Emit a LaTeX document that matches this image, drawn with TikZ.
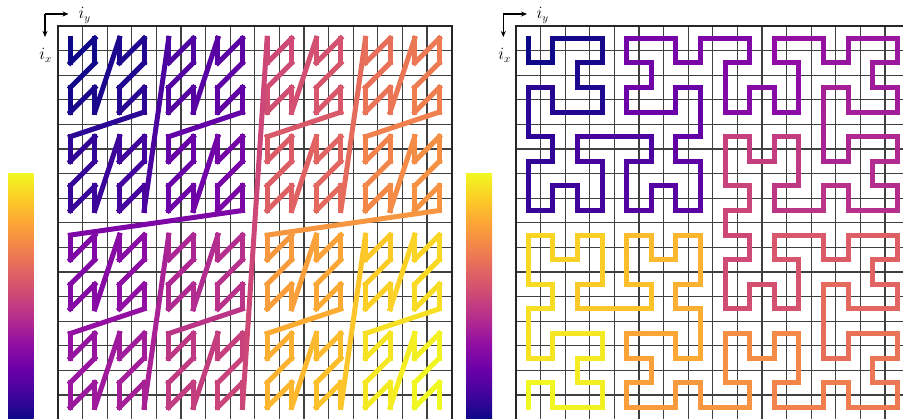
\documentclass[tikz,border=0pt]{standalone}
\usetikzlibrary{arrows.meta}
\definecolor{pl0}{HTML}{0D0887}
\definecolor{pl1}{HTML}{41049D}
\definecolor{pl2}{HTML}{6A00A8}
\definecolor{pl3}{HTML}{8F0DA4}
\definecolor{pl4}{HTML}{B12A90}
\definecolor{pl5}{HTML}{CC4778}
\definecolor{pl6}{HTML}{E16462}
\definecolor{pl7}{HTML}{F2844B}
\definecolor{pl8}{HTML}{FCA636}
\definecolor{pl9}{HTML}{FCCE25}
\definecolor{pl10}{HTML}{F0F921}
\pgfdeclareverticalshading{plasmabar}{100bp}{color(0bp)=(pl0); color(25bp)=(pl0); color(30bp)=(pl1); color(35bp)=(pl2); color(40bp)=(pl3); color(45bp)=(pl4); color(50bp)=(pl5); color(55bp)=(pl6); color(60bp)=(pl7); color(65bp)=(pl8); color(70bp)=(pl9); color(75bp)=(pl10); color(100bp)=(pl10)}

\newcount\MoT \newcount\MoX \newcount\MoY \newcount\MoW \newcount\MoQ \newcount\MoB
\newcount\HiX \newcount\HiY \newcount\HiS \newcount\HiT \newcount\HiRX \newcount\HiRY \newcount\HiQ
\newcount\PlM \newcount\PlK \newcount\PlP

\def\mortonxy#1{%
  \MoT=#1\relax \MoX=0 \MoY=0 \MoW=1
  \loop
    \MoQ=\MoT \divide\MoQ by 2 \MoB=\numexpr\MoT-2*\MoQ\relax
    \advance\MoX by \numexpr\MoW*\MoB\relax
    \MoT=\MoQ
    \MoQ=\MoT \divide\MoQ by 2 \MoB=\numexpr\MoT-2*\MoQ\relax
    \advance\MoY by \numexpr\MoW*\MoB\relax
    \MoT=\MoQ
    \multiply\MoW by 2
  \ifnum\MoW<16 \repeat
}

\def\hilbertxy#1{%
  \HiT=#1\relax \HiX=0 \HiY=0 \HiS=1
  \loop
    \HiQ=\HiT \divide\HiQ by 2
    \HiRX=\HiQ \divide\HiQ by 2 \HiRX=\numexpr\HiRX-2*\HiQ\relax
    \HiQ=\HiT \divide\HiQ by 2 \HiRY=\numexpr\HiT-2*\HiQ\relax
    \ifnum\HiRY=\HiRX \HiRY=0 \else \HiRY=1 \fi
    \ifnum\HiRY=0
      \ifnum\HiRX=1
        \HiX=\numexpr\HiS-1-\HiX\relax
        \HiY=\numexpr\HiS-1-\HiY\relax
      \fi
      \HiQ=\HiX \HiX=\HiY \HiY=\HiQ
    \fi
    \advance\HiX by \numexpr\HiS*\HiRX\relax
    \advance\HiY by \numexpr\HiS*\HiRY\relax
    \divide\HiT by 4
    \multiply\HiS by 2
  \ifnum\HiS<16 \repeat
}

\def\plasmacolor#1{%
  \PlM=\numexpr#1*1000/254\relax
  \PlK=\PlM \divide\PlK by 100
  \ifnum\PlK>9 \PlK=9 \fi
  \PlP=\numexpr\PlM-100*\PlK\relax
  \edef\PlA{pl\the\numexpr\PlK+1\relax}%
  \edef\PlB{pl\the\PlK}%
  \edef\PlDo{\noexpand\colorlet{cur}{\PlA!\the\PlP!\PlB}}%
  \PlDo
}

\tikzset{
  gridline/.style={line width=1.2pt, draw=black!75},
  gridborder/.style={line width=2pt, draw=black!85},
  curve/.style={line width=5pt, line cap=rect},
  axarrow/.style={line width=1.1pt, -{Stealth[length=6pt,width=5pt]}},
  lbl/.style={inner sep=0pt, font=\fontsize{16}{18}\selectfont},
}

\begin{document}
\begin{tikzpicture}[x=1pt,y=-1pt]
\useasboundingbox (0,0) rectangle (903,419);

% colorbars
\shade[shading=plasmabar] (8,173.3) rectangle (33.7,419);
\shade[shading=plasmabar] (466,173.3) rectangle (492,419);

% grids
\foreach \ox in {58,516}{
  \foreach \k in {1,...,15}{
    \draw[gridline] ({\ox+\k*24.6},26) -- ({\ox+\k*24.6},419.6);
    \draw[gridline] (\ox,{26+\k*24.6}) -- ({\ox+393.6},{26+\k*24.6});
  }
  \draw[gridborder] (\ox,26) rectangle ({\ox+393.6},419.6);
}

% Morton curve
\foreach \d in {0,...,254}{
  \mortonxy{\d}
  \edef\ax{\the\MoX}\edef\ay{\the\MoY}
  \mortonxy{\numexpr\d+1\relax}
  \edef\bx{\the\MoX}\edef\by{\the\MoY}
  \plasmacolor{\d}
  \draw[curve,draw=cur] ({58+(\ay+0.5)*24.6},{26+(\ax+0.5)*24.6}) -- ({58+(\by+0.5)*24.6},{26+(\bx+0.5)*24.6});
}

% Hilbert curve
\foreach \d in {0,...,254}{
  \hilbertxy{\d}
  \edef\ax{\the\HiX}\edef\ay{\the\HiY}
  \hilbertxy{\numexpr\d+1\relax}
  \edef\bx{\the\HiX}\edef\by{\the\HiY}
  \plasmacolor{\d}
  \draw[curve,draw=cur] ({516+(\ay+0.5)*24.6},{26+(\ax+0.5)*24.6}) -- ({516+(\by+0.5)*24.6},{26+(\bx+0.5)*24.6});
}

% axis indicators
\coordinate (oL) at (45,14);
\coordinate (ayL) at (68.5,14);
\coordinate (axL) at (45,37);
\draw[axarrow] (oL) -- (ayL);
\draw[axarrow] (oL) -- (axL);
\node[lbl, anchor=base west] (iyL) at (78.5,19) {$i_y$};
\node[lbl, anchor=base east] (ixL) at (52,59.5) {$i_x$};

\coordinate (oR) at (503.3,14);
\coordinate (ayR) at (527,14);
\coordinate (axR) at (503.3,37);
\draw[axarrow] (oR) -- (ayR);
\draw[axarrow] (oR) -- (axR);
\node[lbl, anchor=base west] (iyR) at (536.5,19) {$i_y$};
\node[lbl, anchor=base east] (ixR) at (511,59.5) {$i_x$};
\end{tikzpicture}
\end{document}
